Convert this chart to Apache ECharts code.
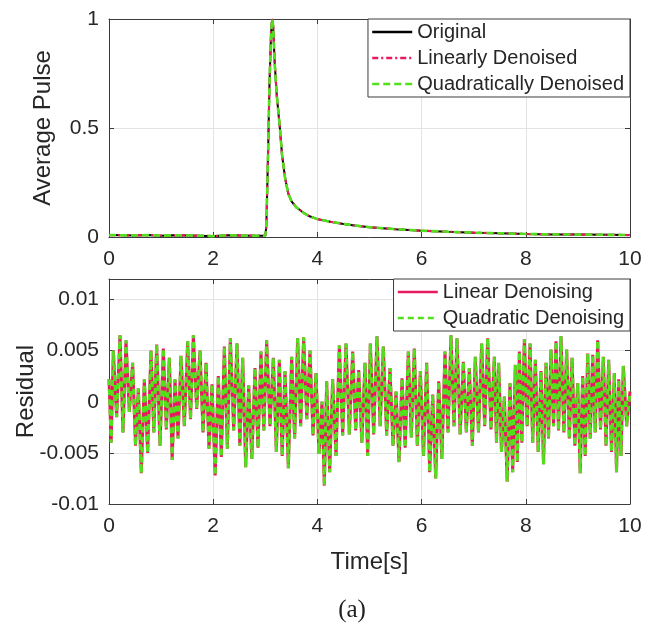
<!DOCTYPE html>
<html>
<head>
<meta charset="utf-8">
<script src="https://cdn.jsdelivr.net/npm/echarts@6/dist/echarts.min.js"></script>
<style>
html,body{margin:0;padding:0;background:#fff;}
#chart{width:646px;height:626px;}
</style>
</head>
<body>
<div id="chart"></div>
<script>
// ---------- data ----------
const pulseTime = [0, 0.25, 0.5, 0.75, 1.0, 1.25, 1.5, 1.75, 2.0, 2.25, 2.5, 2.75, 3.0,
  3.02, 3.05, 3.08, 3.11, 3.13, 3.15, 3.18, 3.22, 3.28, 3.32, 3.38, 3.44, 3.5, 3.6, 3.74,
  3.85, 4.0, 4.25, 4.5, 4.75, 5.0, 5.5, 6.0, 6.5, 7.0, 7.5, 8.0, 8.5, 9.0, 9.5, 10];
const pulseOriginal = [0.009, 0.008, 0.007, 0.009, 0.006, 0.008, 0.007, 0.006, 0.004, 0.008, 0.007, 0.006, 0.006,
  0.05, 0.35, 0.7, 0.93, 1.0, 0.97, 0.8, 0.65, 0.5, 0.38, 0.27, 0.2, 0.165, 0.135, 0.11,
  0.095, 0.082, 0.07, 0.06, 0.052, 0.045, 0.036, 0.029, 0.024, 0.02, 0.017, 0.014, 0.012, 0.011, 0.01, 0.009];
const pulseLinear = [0.009, 0.008, 0.007, 0.009, 0.006, 0.008, 0.007, 0.006, 0.004, 0.008, 0.007, 0.006, 0.006,
  0.05, 0.35, 0.7, 0.93, 1.0, 0.97, 0.8, 0.65, 0.5, 0.38, 0.27, 0.2, 0.165, 0.135, 0.11,
  0.095, 0.082, 0.07, 0.06, 0.052, 0.045, 0.036, 0.029, 0.024, 0.02, 0.017, 0.014, 0.012, 0.011, 0.01, 0.009];
const pulseQuadratic = [0.009, 0.008, 0.007, 0.009, 0.006, 0.008, 0.007, 0.006, 0.004, 0.008, 0.007, 0.006, 0.006,
  0.05, 0.35, 0.7, 0.93, 1.0, 0.97, 0.8, 0.65, 0.5, 0.38, 0.27, 0.2, 0.165, 0.135, 0.11,
  0.095, 0.082, 0.07, 0.06, 0.052, 0.045, 0.036, 0.029, 0.024, 0.02, 0.017, 0.014, 0.012, 0.011, 0.01, 0.009];

// residual: one oscillation stroke per entry (time of stroke, its peak and its trough)
const residualTime = [0.0, 0.083, 0.211, 0.326, 0.454, 0.563, 0.678, 0.806, 0.915, 1.043,
  1.158, 1.267, 1.382, 1.510, 1.619, 1.747, 1.862, 1.977, 2.098, 2.214, 2.329,
  2.457, 2.566, 2.681, 2.802, 2.917, 3.026, 3.154, 3.269, 3.378, 3.506, 3.621, 3.736,
  3.858, 3.973, 4.088, 4.178, 4.293, 4.421, 4.549, 4.677, 4.792, 4.914, 5.016,
  5.144, 5.265, 5.393, 5.509, 5.624, 5.745, 5.860, 5.976, 6.097, 6.213, 6.328, 6.449,
  6.564, 6.679, 6.801, 6.916, 7.031, 7.153, 7.268, 7.396,
  7.479, 7.588, 7.697, 7.799, 7.876, 7.972, 8.081, 8.183, 8.292, 8.388, 8.484, 8.580,
  8.676, 8.784, 8.887, 8.996, 9.092, 9.188, 9.284, 9.380, 9.488, 9.591, 9.699, 9.783, 9.872];
const residualPeak = [0.0022, 0.005, 0.0065, 0.006, 0.0038, 0.0013, 0.0022, 0.005, 0.0056, 0.0052,
  0.0043, 0.0022, 0.0045, 0.0059, 0.0065, 0.005, 0.0038, 0.0017, 0.0025, 0.0054, 0.0062,
  0.0057, 0.0043, 0.0016, 0.0033, 0.0049, 0.006, 0.0043, 0.0041, 0.003, 0.0044, 0.0062, 0.0063,
  0.005, 0.0028, 0.0, 0.002, 0.0022, 0.0055, 0.0057, 0.0049, 0.0031, 0.0038, 0.0057,
  0.0064, 0.0054, 0.0033, 0.001, 0.0023, 0.0049, 0.0052, 0.003, 0.0038, 0.0007, 0.002, 0.0049,
  0.0065, 0.0062, 0.0039, 0.0033, 0.0044, 0.0057, 0.0062, 0.0044,
  0.0038, 0.0005, 0.0018, 0.0036, 0.0049, 0.0061, 0.0057, 0.0041, 0.003, 0.0038, 0.0051, 0.0059,
  0.0064, 0.0051, 0.0043, 0.0018, 0.0025, 0.0047, 0.0046, 0.006, 0.0044, 0.0041, 0.0028, 0.0022, 0.0035];
const residualTrough = [-0.004, -0.0015, -0.003, -0.001, -0.0043, -0.007, -0.005, -0.003, -0.0043, -0.0027,
  -0.0057, -0.0036, -0.0024, -0.0017, -0.0007, -0.003, -0.0046, -0.0072, -0.0054, -0.0046, -0.0028,
  -0.0043, -0.0064, -0.0056, -0.0045, -0.0028, -0.0024, -0.0049, -0.0053, -0.0065, -0.0036, -0.0024, -0.0017,
  -0.0033, -0.0051, -0.0082, -0.0069, -0.0053, -0.0033, -0.0032, -0.0028, -0.004, -0.0053, -0.0032,
  -0.0024, -0.0033, -0.0043, -0.0059, -0.0045, -0.0035, -0.0043, -0.0053, -0.0069, -0.0075, -0.0056, -0.003,
  -0.0024, -0.0032, -0.003, -0.0043, -0.003, -0.0024, -0.0027, -0.004,
  -0.0049, -0.0078, -0.0069, -0.0059, -0.004, -0.0024, -0.004, -0.0049, -0.0061, -0.0036, -0.0024, -0.0028,
  -0.003, -0.0036, -0.0043, -0.007, -0.0053, -0.0036, -0.003, -0.0027, -0.0043, -0.0049, -0.0069, -0.0053, -0.0024];
const residualEnd = [10, 0.001];

const xTickInterval = 2;
const topYTicks = [0, 0.5, 1];
const bottomYTicks = [-0.01, -0.005, 0, 0.005, 0.01];

// ---------- build series data ----------
function pairs(t, v) { return t.map((x, i) => [x, v[i]]); }
function residualPairs() {
  const out = [];
  for (let i = 0; i < residualTime.length; i++) {
    const next = i + 1 < residualTime.length ? residualTime[i + 1] : residualEnd[0];
    out.push([residualTime[i], residualPeak[i]]);
    out.push([(residualTime[i] + next) / 2, residualTrough[i]]);
  }
  out.push(residualEnd);
  return out;
}
const residualData = residualPairs();

const FONT = '"Liberation Sans", Arial, Helvetica, sans-serif';
const TXT = '#262626';
const AX = '#3c3c3c';
const GRIDC = '#e3e3e3';
const RED = '#e6195f';
const GREEN = '#52e01c';

const tickStyle = { show: true, inside: true, length: 5, lineStyle: { color: AX, width: 1 } };
const lineStyleAx = { show: true, onZero: false, lineStyle: { color: AX, width: 1 } };

function xAxisBottom(gi, withName) {
  return {
    type: 'value', gridIndex: gi, min: 0, max: 10, interval: xTickInterval, position: 'bottom',
    axisLine: lineStyleAx, axisTick: tickStyle,
    axisLabel: { color: TXT, fontFamily: FONT, fontSize: 21, margin: 12 },
    splitLine: { show: true, lineStyle: { color: GRIDC, width: 1 } },
    name: withName ? 'Time[s]' : '', nameLocation: 'middle', nameGap: 46, nameMoveOverlap: false,
    nameTextStyle: { color: TXT, fontFamily: FONT, fontSize: 24 }
  };
}
function xAxisTop(gi) {
  return {
    type: 'value', gridIndex: gi, min: 0, max: 10, interval: xTickInterval, position: 'top',
    axisLine: lineStyleAx, axisTick: tickStyle,
    axisLabel: { show: false }, splitLine: { show: false }
  };
}
function yAxisLeft(gi, min, max, interval, name, gap, fmt) {
  return {
    type: 'value', gridIndex: gi, min: min, max: max, interval: interval, position: 'left',
    axisLine: lineStyleAx, axisTick: tickStyle,
    axisLabel: { color: TXT, fontFamily: FONT, fontSize: 21, margin: 10, formatter: fmt },
    splitLine: { show: true, lineStyle: { color: GRIDC, width: 1 } },
    name: name, nameLocation: 'middle', nameGap: gap, nameMoveOverlap: false,
    nameTextStyle: { color: TXT, fontFamily: FONT, fontSize: 24 }
  };
}
function yAxisRight(gi, min, max, interval) {
  return {
    type: 'value', gridIndex: gi, min: min, max: max, interval: interval, position: 'right',
    axisLine: lineStyleAx, axisTick: tickStyle,
    axisLabel: { show: false }, splitLine: { show: false }
  };
}
function fmtTop(v) {
  const r = Math.round(v * 10) / 10;
  return topYTicks.includes(r) ? String(r) : '';
}
function fmtBottom(v) {
  const r = Math.round(v * 1000) / 1000;
  return bottomYTicks.includes(r) ? String(r) : '';
}

const legendBase = {
  orient: 'vertical', right: 16, itemWidth: 40, itemHeight: 14, itemGap: 6,
  padding: [3, 6, 3, 3], backgroundColor: '#ffffff', borderColor: AX, borderWidth: 1,
  itemStyle: { opacity: 0, borderWidth: 0, color: 'rgba(0,0,0,0)' },
  lineStyle: { width: 2.5 },
  textStyle: { color: TXT, fontFamily: FONT, fontSize: 20, lineHeight: 20 }
};

const chart = echarts.init(document.getElementById('chart'), null, { renderer: 'canvas' });
chart.setOption({
  backgroundColor: '#ffffff',
  animation: false,
  grid: [
    { left: 109, top: 19, width: 521, height: 218 },
    { left: 109, top: 279, width: 521, height: 225 }
  ],
  xAxis: [xAxisBottom(0, false), xAxisTop(0), xAxisBottom(1, true), xAxisTop(1)],
  yAxis: [
    yAxisLeft(0, 0, 1, 0.5, 'Average Pulse', 54, fmtTop),
    yAxisRight(0, 0, 1, 0.5),
    yAxisLeft(1, -0.01, 0.012, 0.005, 'Residual', 71, fmtBottom),
    yAxisRight(1, -0.01, 0.012, 0.005)
  ],
  legend: [
    Object.assign({}, legendBase, { top: 19, data: ['Original', 'Linearly Denoised', 'Quadratically Denoised'] }),
    Object.assign({}, legendBase, { top: 279, data: ['Linear Denoising', 'Quadratic Denoising'] })
  ],
  series: [
    { name: 'Original', type: 'line', xAxisIndex: 0, yAxisIndex: 0, data: pairs(pulseTime, pulseOriginal),
      showSymbol: false, symbol: 'none', lineStyle: { color: '#000000', width: 2 }, itemStyle: { color: '#000000' } },
    { name: 'Linearly Denoised', type: 'line', xAxisIndex: 0, yAxisIndex: 0, data: pairs(pulseTime, pulseLinear),
      showSymbol: false, symbol: 'none', lineStyle: { color: RED, width: 2.2, type: [6, 3, 2, 3] }, itemStyle: { color: RED } },
    { name: 'Quadratically Denoised', type: 'line', xAxisIndex: 0, yAxisIndex: 0, data: pairs(pulseTime, pulseQuadratic),
      showSymbol: false, symbol: 'none', lineStyle: { color: GREEN, width: 2.6, type: [7, 4] }, itemStyle: { color: GREEN } },
    { name: 'Linear Denoising', type: 'line', xAxisIndex: 2, yAxisIndex: 2, data: residualData,
      showSymbol: false, symbol: 'none', lineStyle: { color: RED, width: 3 }, itemStyle: { color: RED } },
    { name: 'Quadratic Denoising', type: 'line', xAxisIndex: 2, yAxisIndex: 2, data: residualData,
      showSymbol: false, symbol: 'none', lineStyle: { color: GREEN, width: 3, type: [6, 4] }, itemStyle: { color: GREEN } }
  ],
  graphic: [
    { type: 'text', x: 352, y: 610, style: { text: '(a)', align: 'center', verticalAlign: 'middle',
      fontFamily: '"Liberation Serif", "DejaVu Serif", serif', fontSize: 25, fill: '#222222' } }
  ]
});
</script>
</body>
</html>
